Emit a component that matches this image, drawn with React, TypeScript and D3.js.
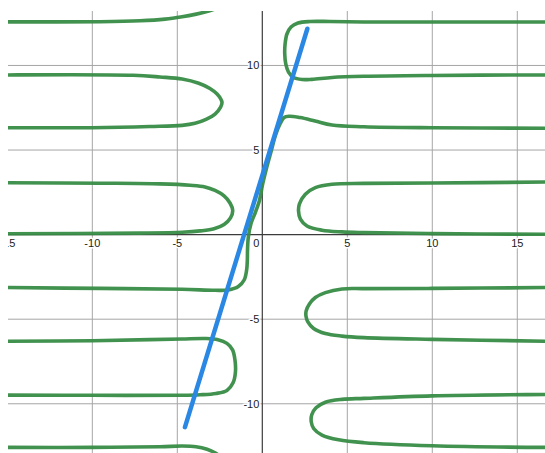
import React from "react";
import * as d3 from "d3";

// Canvas and plotting window (pixels)
const W = 545;
const H = 453;
const PLOT = { left: 8, top: 11, right: 545, bottom: 453 };

// Visible window in graph units
const xDomain: [number, number] = [-14.96, 16.63];
const yDomain: [number, number] = [-12.91, 13.22];

// Major grid every 5 units
const xGridValues = [-15, -10, -5, 5, 10, 15];
const xTickLabels = ["-15", "-10", "-5", "5", "10", "15"];
const yGridValues = [-10, -5, 5, 10];
const yTickLabels = ["-10", "-5", "5", "10"];

// Straight segment (blue)
const lineX = [-4.55, 2.65];
const lineY = [-11.38, 12.17];

// Implicit-curve branches (green), traced as [x, y] points
const branchTopLeft: [number, number][] = [
  [-16, 12.57], [-14.96, 12.58], [-9.55, 12.585], [-7.19, 12.64], [-5.72, 12.74],
  [-4.72, 12.88], [-3.96, 13.02], [-3.37, 13.16], [-2.78, 13.34],
];

const loopLeftUpper: [number, number][] = [
  [-16, 9.43], [-14.96, 9.44], [-7.61, 9.42], [-6.02, 9.32], [-4.72, 9.2],
  [-3.74, 8.95], [-3.08, 8.64], [-2.66, 8.31], [-2.43, 7.99], [-2.37, 7.81],
  [-2.46, 7.52], [-2.78, 7.13], [-3.31, 6.81], [-3.96, 6.58], [-4.72, 6.46],
  [-6.61, 6.39], [-10.02, 6.32], [-14.96, 6.32], [-16, 6.3],
];

const loopLeftMid: [number, number][] = [
  [-16, 3.1], [-14.96, 3.07], [-9.55, 3.04], [-6.02, 3.0], [-4.25, 2.92],
  [-3.37, 2.82], [-2.78, 2.61], [-2.25, 2.29], [-1.9, 1.87], [-1.74, 1.43],
  [-1.87, 0.99], [-2.25, 0.6], [-2.84, 0.35], [-3.66, 0.22], [-4.72, 0.14],
  [-7.19, 0.09], [-14.96, 0.05], [-16, 0.04],
];

const crossingBranch: [number, number][] = [
  [-16, -3.12], [-14.96, -3.13], [-9.55, -3.18], [-4.72, -3.23], [-2.78, -3.29],
  [-2.0, -3.27], [-1.41, -3.07], [-1.06, -2.67], [-0.92, -2.08], [-0.88, -1.49],
  [-0.87, -0.9], [-0.82, -0.12], [-0.66, 0.67], [-0.43, 1.26], [-0.16, 2.05],
  [0.01, 2.94], [0.25, 3.94], [0.54, 5.0], [0.78, 5.89], [1.07, 6.6],
  [1.28, 6.92], [1.57, 7.0], [2.22, 6.92], [3.1, 6.72], [4.1, 6.48],
  [5.98, 6.38], [9.98, 6.32], [16.63, 6.29], [18, 6.28],
];

const loopRightTop: [number, number][] = [
  [18, 12.57], [16.63, 12.57], [9.98, 12.57], [5.98, 12.57], [3.98, 12.6],
  [2.81, 12.6], [2.1, 12.51], [1.69, 12.27], [1.45, 11.86], [1.34, 11.27],
  [1.32, 10.68], [1.38, 10.09], [1.54, 9.61], [1.84, 9.29], [2.34, 9.17],
  [2.92, 9.18], [4.1, 9.29], [5.98, 9.36], [9.98, 9.41], [16.63, 9.44], [18, 9.44],
];

const loopRightMid: [number, number][] = [
  [18, 3.12], [16.63, 3.11], [9.98, 3.05], [5.98, 3.03], [4.1, 2.98],
  [3.12, 2.78], [2.53, 2.39], [2.18, 1.8], [2.13, 1.4], [2.24, 0.91],
  [2.63, 0.51], [3.51, 0.26], [4.69, 0.16], [5.98, 0.12], [9.98, 0.06],
  [16.63, 0.02], [18, 0.02],
];

const loopRightLow: [number, number][] = [
  [18, -3.13], [16.63, -3.13], [9.98, -3.18], [5.98, -3.19], [4.69, -3.21],
  [3.71, -3.43], [3.12, -3.72], [2.78, -4.09], [2.58, -4.51], [2.57, -4.83],
  [2.68, -5.16], [3.02, -5.55], [3.71, -5.85], [4.69, -6.0], [5.98, -6.09],
  [9.98, -6.19], [16.63, -6.3], [18, -6.31],
];

const loopLeftLow: [number, number][] = [
  [-16, -6.3], [-14.96, -6.3], [-10.02, -6.27], [-6.61, -6.21], [-4.72, -6.17],
  [-3.37, -6.14], [-2.61, -6.21], [-2.08, -6.43], [-1.75, -6.81], [-1.61, -7.4],
  [-1.58, -8.11], [-1.72, -8.76], [-2.08, -9.21], [-2.72, -9.39], [-3.66, -9.47],
  [-4.72, -9.5], [-10.02, -9.5], [-14.96, -9.49], [-16, -9.49],
];

const branchBottomLeft: [number, number][] = [
  [-16, -12.58], [-14.96, -12.58], [-10.02, -12.58], [-6.02, -12.54], [-4.72, -12.5],
  [-3.9, -12.54], [-3.25, -12.69], [-2.78, -12.9], [-2.37, -13.19],
];

const loopRightBottom: [number, number][] = [
  [18, -9.44], [16.63, -9.45], [9.98, -9.53], [5.98, -9.68], [4.69, -9.74],
  [3.71, -9.91], [3.16, -10.24], [2.91, -10.65], [2.88, -11.07], [3.02, -11.46],
  [3.51, -11.85], [4.49, -12.13], [5.98, -12.3], [9.98, -12.48], [16.63, -12.58],
  [18, -12.58],
];

const greenBranches = [
  branchTopLeft, loopLeftUpper, loopLeftMid, crossingBranch, loopRightTop,
  loopRightMid, loopRightLow, loopLeftLow, branchBottomLeft, loopRightBottom,
];

const GREEN = "#388c46";
const BLUE = "#2a88e4";
const GRID = "#a6a6a6";
const AXIS = "#3c3c3c";
const FONT = "'Liberation Sans', Arial, sans-serif";

export default function App() {
  const x = d3.scaleLinear().domain(xDomain).range([PLOT.left, PLOT.right]);
  const y = d3.scaleLinear().domain(yDomain).range([PLOT.bottom, PLOT.top]);

  const curve = d3
    .line<[number, number]>()
    .x((d) => x(d[0]))
    .y((d) => y(d[1]))
    .curve(d3.curveCatmullRom.alpha(0.5));

  const straight = d3
    .line<number>()
    .x((_, i) => x(lineX[i]))
    .y((_, i) => y(lineY[i]));

  const x0 = x(0);
  const y0 = y(0);

  const labelStyle = {
    fontFamily: FONT,
    fontSize: 11,
    fill: "#222",
    stroke: "#fff",
    strokeWidth: 3,
    paintOrder: "stroke",
    strokeLinejoin: "round" as const,
  };

  return (
    <svg
      width={W}
      height={H}
      style={{ position: "absolute", left: 0, top: 0, background: "#fff" }}
    >
      <defs>
        <clipPath id="plot-area">
          <rect
            x={PLOT.left}
            y={PLOT.top}
            width={PLOT.right - PLOT.left}
            height={PLOT.bottom - PLOT.top}
          />
        </clipPath>
      </defs>

      <g clipPath="url(#plot-area)">
        {/* grid */}
        {xGridValues.map((v) => (
          <line
            key={"gx" + v}
            x1={x(v)}
            x2={x(v)}
            y1={PLOT.top}
            y2={PLOT.bottom}
            stroke={GRID}
            strokeWidth={1}
          />
        ))}
        {yGridValues.map((v) => (
          <line
            key={"gy" + v}
            x1={PLOT.left}
            x2={PLOT.right}
            y1={y(v)}
            y2={y(v)}
            stroke={GRID}
            strokeWidth={1}
          />
        ))}

        {/* axes */}
        <line x1={PLOT.left} x2={PLOT.right} y1={y0} y2={y0} stroke={AXIS} strokeWidth={1.2} />
        <line x1={x0} x2={x0} y1={PLOT.top} y2={PLOT.bottom} stroke={AXIS} strokeWidth={1.2} />

        {/* tick labels */}
        {xGridValues.map((v, i) => (
          <text
            key={"lx" + v}
            x={x(v)}
            y={y0 + 12.5}
            textAnchor="middle"
            style={labelStyle}
          >
            {xTickLabels[i]}
          </text>
        ))}
        <text x={x0 - 3} y={y0 + 12.5} textAnchor="end" style={labelStyle}>
          0
        </text>
        {yGridValues.map((v, i) => (
          <text
            key={"ly" + v}
            x={x0 - 3}
            y={y(v) + 4}
            textAnchor="end"
            style={labelStyle}
          >
            {yTickLabels[i]}
          </text>
        ))}

        {/* implicit curve */}
        {greenBranches.map((pts, i) => (
          <path
            key={"g" + i}
            d={curve(pts) ?? ""}
            fill="none"
            stroke={GREEN}
            strokeWidth={3.6}
            strokeLinecap="round"
            strokeLinejoin="round"
            opacity={0.95}
          />
        ))}

        {/* line */}
        <path
          d={straight(lineX) ?? ""}
          fill="none"
          stroke={BLUE}
          strokeWidth={4.5}
          strokeLinecap="round"
        />
      </g>
    </svg>
  );
}
